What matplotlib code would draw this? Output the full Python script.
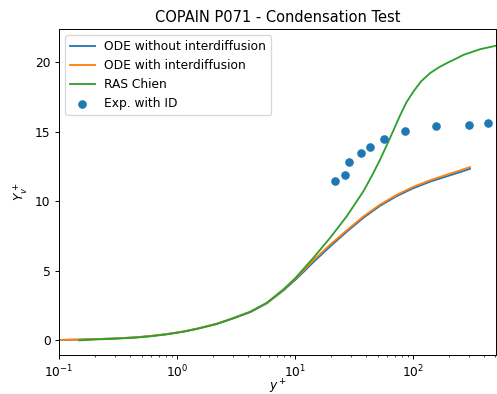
import matplotlib
matplotlib.use("Agg")
import matplotlib.pyplot as plt

# ODE curves (x = y+, y = Y_v+)
ode_x = [0.1, 0.15, 0.2, 0.3, 0.45, 0.59, 0.8, 1.13, 1.5, 2.17, 3.0, 4.16, 5.76, 7.96,
         10.0, 11.0, 14.3, 19.8, 27.4, 37.9, 52.5, 72.7, 100.0, 140.0, 193.0, 250.0, 304.0]
ode_noid_y = [0.03, 0.06, 0.09, 0.14, 0.22, 0.31, 0.44, 0.63, 0.85, 1.18, 1.58, 2.02, 2.66, 3.58,
              4.33, 4.66, 5.62, 6.74, 7.8, 8.8, 9.66, 10.36, 10.92, 11.4, 11.78, 12.08, 12.32]
ode_id_y = [0.03, 0.06, 0.09, 0.14, 0.22, 0.31, 0.44, 0.64, 0.86, 1.2, 1.6, 2.05, 2.68, 3.62,
            4.4, 4.75, 5.75, 6.87, 7.9, 8.9, 9.75, 10.45, 11.02, 11.5, 11.9, 12.2, 12.45]

# RAS Chien
ras_x = [0.148, 0.2, 0.3, 0.45, 0.59, 0.8, 1.13, 1.5, 2.17, 3.0, 4.16, 5.76, 7.96, 10.0,
         14.3, 19.8, 27.4, 37.9, 45.0, 52.5, 63.8, 77.6, 88.0, 100.7, 117.0, 139.3, 165.0,
         193.0, 230.0, 267.0, 370.0, 512.0]
ras_y = [0.0, 0.06, 0.12, 0.2, 0.29, 0.42, 0.62, 0.84, 1.18, 1.6, 2.05, 2.7, 3.66, 4.45,
         5.93, 7.36, 8.91, 10.7, 11.85, 12.97, 14.53, 16.15, 17.1, 17.87, 18.6, 19.19, 19.6,
         19.91, 20.22, 20.5, 20.91, 21.17]

# Experimental data
exp_x = [21.8, 26.5, 28.7, 36.2, 43.2, 57.1, 85.5, 156.6, 300.0, 432.0]
exp_y = [11.42, 11.85, 12.78, 13.43, 13.89, 14.46, 15.05, 15.39, 15.48, 15.6]

DPI = 88
fig = plt.figure(figsize=(497 / DPI, 394 / DPI), dpi=DPI)
ax = fig.add_subplot(111)
fig.subplots_adjust(left=0.119, right=0.998, bottom=0.099, top=0.926)

ax.plot(ode_x, ode_noid_y, color="#1f77b4", label="ODE without interdiffusion")
ax.plot(ode_x, ode_id_y, color="#ff7f0e", label="ODE with interdiffusion")
ax.plot(ras_x, ras_y, color="#2ca02c", label="RAS Chien")
ax.scatter(exp_x, exp_y, color="#1f77b4", label="Exp. with ID", zorder=3)

ax.set_xscale("log")
ax.set_xlim(0.1, 505)
ax.set_ylim(-1.05, 22.35)
ax.set_yticks([0, 5, 10, 15, 20])
ax.set_title("COPAIN P071 - Condensation Test")
ax.set_xlabel("$y^+$", labelpad=-2)
ax.set_ylabel("$Y_v^+$")
ax.legend(loc="upper left")

fig.savefig("out.png", dpi=DPI)
